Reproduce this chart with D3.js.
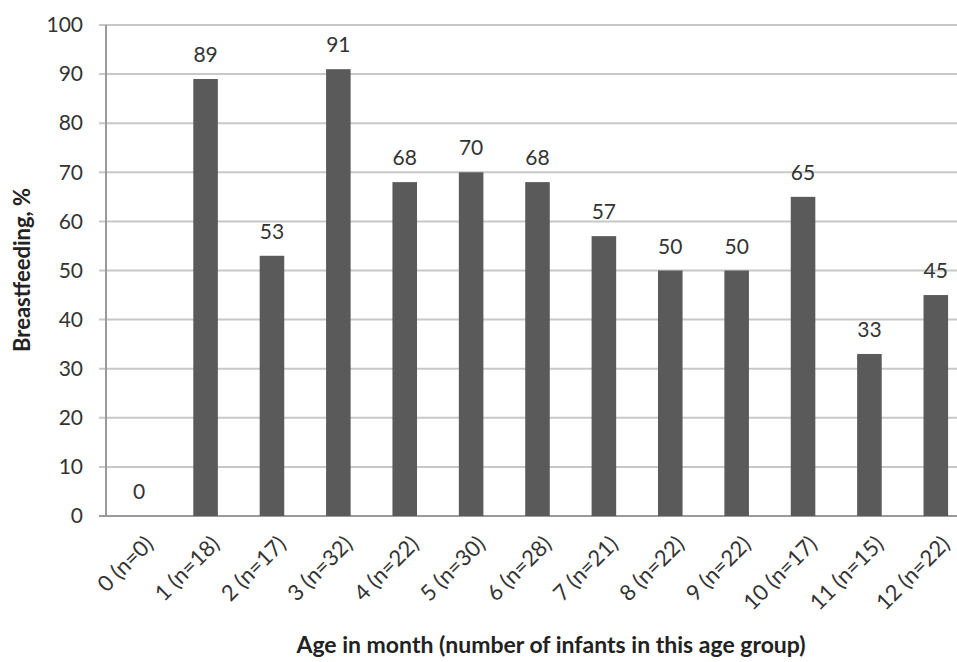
<!DOCTYPE html>
<html>
<head>
<meta charset="utf-8">
<script src="https://cdn.jsdelivr.net/npm/d3@7"></script>
<style>
  body { margin: 0; background: #fff; }
  svg { display: block; font-family: "Lato", "Open Sans", sans-serif; }
</style>
</head>
<body>
<div id="chart"></div>
<script>
var svgWidth = 957;
var svgHeight = 662;

// Data
var ages = ["0", "1", "2", "3", "4", "5", "6", "7", "8", "9", "10", "11", "12"];
var counts = [0, 18, 17, 32, 22, 30, 28, 21, 22, 22, 17, 15, 22];
var breastfeeding = [0, 89, 53, 91, 68, 70, 68, 57, 50, 50, 65, 33, 45];
var yTicks = [0, 10, 20, 30, 40, 50, 60, 70, 80, 90, 100];

var categories = ages.map(function(a, i) {
  return a + " (n=" + counts[i] + ")";
});

var margin = { top: 25, right: -12, bottom: 146, left: 106 };
var width = svgWidth - margin.left - margin.right;
var height = svgHeight - margin.top - margin.bottom;

var svg = d3.select("#chart")
  .append("svg")
  .attr("width", svgWidth)
  .attr("height", svgHeight);

var chartGroup = svg.append("g")
  .attr("transform", `translate(${margin.left}, ${margin.top})`);

var xScale = d3.scaleBand()
  .domain(categories)
  .range([0, width])
  .paddingInner(0.63)
  .paddingOuter(0.315);

var yScale = d3.scaleLinear()
  .domain([0, 100])
  .range([height, 0]);

// Gridlines
chartGroup.append("g")
  .selectAll("line")
  .data(yTicks)
  .enter()
  .append("line")
  .attr("x1", -7)
  .attr("x2", width)
  .attr("y1", function(d) { return yScale(d); })
  .attr("y2", function(d) { return yScale(d); })
  .attr("stroke", function(d) { return d === 0 ? "#9a9a9a" : "#c8c8c8"; })
  .attr("stroke-width", 2);

// Y axis line
chartGroup.append("line")
  .attr("x1", 0).attr("x2", 0)
  .attr("y1", 0).attr("y2", height)
  .attr("stroke", "#9a9a9a")
  .attr("stroke-width", 2);

// Y tick labels
var leftAxis = d3.axisLeft(yScale).tickValues(yTicks).tickSize(0).tickPadding(23);
var yAxisG = chartGroup.append("g").call(leftAxis);
yAxisG.select(".domain").remove();
yAxisG.selectAll("text")
  .attr("font-family", "Lato, 'Open Sans', sans-serif")
  .attr("font-size", "21px")
  .attr("fill", "#333");

// Bars
chartGroup.selectAll(".bar")
  .data(breastfeeding)
  .enter()
  .append("rect")
  .attr("class", "bar")
  .attr("x", function(d, i) { return xScale(categories[i]); })
  .attr("width", xScale.bandwidth())
  .attr("y", function(d) { return yScale(d); })
  .attr("height", function(d) { return height - yScale(d); })
  .attr("fill", "#5a5a5a");

// Value labels
chartGroup.selectAll(".val")
  .data(breastfeeding)
  .enter()
  .append("text")
  .attr("class", "val")
  .attr("x", function(d, i) { return xScale(categories[i]) + xScale.bandwidth() / 2; })
  .attr("y", function(d) { return yScale(d) - 17; })
  .attr("text-anchor", "middle")
  .attr("font-size", "21px")
  .attr("fill", "#333")
  .text(function(d) { return d; });

// X tick labels, rotated
chartGroup.selectAll(".xlab")
  .data(categories)
  .enter()
  .append("text")
  .attr("class", "xlab")
  .attr("transform", function(d) {
    var cx = xScale(d) + xScale.bandwidth() / 2 + 10;
    return `translate(${cx}, ${height + 24}) rotate(-45)`;
  })
  .attr("text-anchor", "end")
  .attr("dy", "0.35em")
  .attr("font-size", "22px")
  .attr("fill", "#333")
  .text(function(d) { return d; });

// Axis titles
svg.append("text")
  .attr("transform", `translate(30, 270) rotate(-90)`)
  .attr("text-anchor", "middle")
  .attr("font-size", "22px")
  .attr("font-weight", "bold")
  .attr("fill", "#222")
  .text("Breastfeeding, %");

svg.append("text")
  .attr("x", 551)
  .attr("y", 653)
  .attr("text-anchor", "middle")
  .attr("font-size", "23px")
  .attr("font-weight", "bold")
  .attr("fill", "#222")
  .text("Age in month (number of infants in this age group)");
</script>
</body>
</html>
